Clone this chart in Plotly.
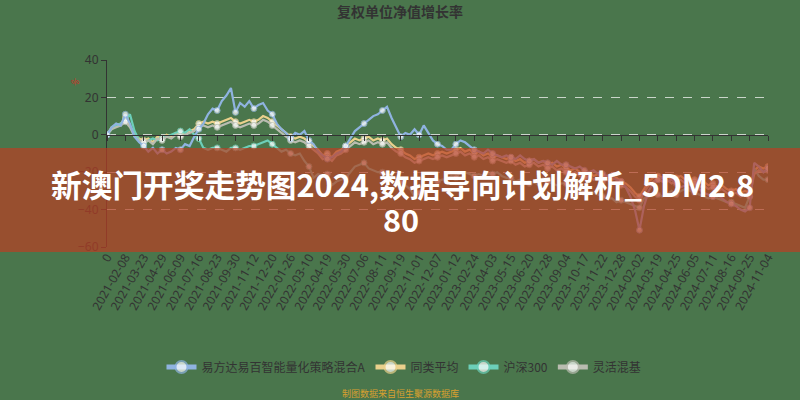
import plotly.graph_objects as go

title_text = "复权单位净值增长率"
series_names = ["易方达易百智能量化策略混合A", "同类平均", "沪深300", "灵活混基"]
banner_line1 = "新澳门开奖走势图2024,数据导向计划解析_5DM2.8"
banner_line2 = "80"
source_text = "制图数据来自恒生聚源数据库"
tick_labels = ["0", "2021-02-08", "2021-03-23", "2021-04-29", "2021-06-09", "2021-07-16",
               "2021-08-23", "2021-09-30", "2021-11-12", "2021-12-20", "2022-01-26", "2022-03-10",
               "2022-04-19", "2022-05-30", "2022-07-06", "2022-08-11", "2022-09-19", "2022-11-01",
               "2022-12-07", "2023-01-12", "2023-02-24", "2023-04-03", "2023-05-15", "2023-06-20",
               "2023-07-28", "2023-09-04", "2023-10-17", "2023-11-22", "2023-12-28", "2024-02-02",
               "2024-03-19", "2024-04-25", "2024-06-05", "2024-07-11", "2024-08-16", "2024-09-25",
               "2024-11-04"]

fund = [0, 4, 6, 5, 11, 6, -1, -4, -6, -9,
        -7, -10, -8, -10, -9, -7, -8, -5, -6, -1,
        3, 6, 11, 14, 13, 18, 21, 25, 12, 17,
        15, 18, 14, 16, 17, 13, 11, 6, 3, 1,
        -2, 1, 0, 2, -3, -5, -9, -11, -13, -12,
        -10, -9, -6, -2, 2, 4, 6, 8, 10, 11,
        13, 15, 9, 4, -1, 1, 0, 3, 0, 5,
        1, -3, -5, -6, -8, -8, -5, -3, -4, -6,
        -8, -9, -10, -8, -10, -11, -12, -11, -12, -13,
        -11, -13, -14, -13, -15, -14, -15, -16, -14, -16,
        -16, -17, -18, -17, -19, -20, -19, -21, -21, -22,
        -23, -24, -25, -28, -33, -40, -51, -38, -30, -26,
        -24, -23, -25, -24, -26, -28, -27, -29, -30, -29,
        -31, -32, -33, -32, -34, -36, -37, -38, -40, -41,
        -39, -15, -17, -20, -18]

peer_avg = [0, 4, 5, 6, 9, 5, 0, -2, -3, -2,
            -4, -1, -2, 0, -1, 1, 0, 1, 2, 3,
            6, 7, 6, 7, 6, 7, 8, 9, 7, 6,
            7, 8, 7, 8, 10, 9, 7, 5, 3, 1,
            -1, -2, -1, -2, -4, -6, -8, -11, -10, -12,
            -9, -8, -6, -4, -2, -3, -2, -1, -3, -2,
            -3, -2, -5, -7, -8, -10, -11, -13, -12, -11,
            -10, -11, -10, -9, -10, -9, -8, -7, -9, -8,
            -10, -9, -11, -10, -12, -11, -12, -13, -12, -14,
            -13, -15, -14, -13, -15, -14, -16, -15, -17, -16,
            -18, -19, -18, -20, -21, -20, -22, -21, -23, -22,
            -24, -23, -25, -26, -28, -31, -33, -29, -25, -23,
            -22, -23, -22, -24, -23, -22, -24, -25, -24, -26,
            -25, -27, -26, -28, -27, -29, -30, -29, -31, -30,
            -31, -19, -17, -18, -17]

hs300 = [0, 3, 5, 6, 8, 11, 2, -3, -5, -3,
         -2, -3, -2, -1, 0, 1, 2, 1, 3, 0,
         -2, -7, -8, -7, -7, -8, -9, -7, -7, -8,
         -7, -6, -6, -5, -4, -3, -5, -7, -9, -8,
         -10, -11, -10, -14, -17, -23, -21, -22, -21, -27,
         -25, -24, -23, -20, -17, -16, -15, -18, -19, -20,
         -20, -21, -22, -24, -25, -27, -29, -33, -31, -28,
         -27, -25, -25, -24, -24, -22, -23, -20, -20, -21,
         -22, -21, -22, -21, -21, -20, -22, -23, -23, -25,
         -24, -25, -26, -25, -27, -23, -25, -26, -27, -26,
         -26, -27, -28, -29, -31, -32, -31, -32, -33, -34,
         -34, -36, -35, -36, -37, -38, -39, -34, -33, -32,
         -32, -33, -32, -30, -32, -30, -29, -30, -31, -32,
         -33, -34, -33, -34, -35, -36, -36, -37, -38, -39,
         -33, -18, -22, -24, -24]

flex_mix = [0, 3, 4, 5, 7, 4, -1, -3, -4, -3,
            -5, -2, -3, -1, -2, 0, -1, 0, 1, 2,
            4, 5, 4, 5, 4, 5, 6, 7, 5, 4,
            5, 6, 5, 6, 8, 7, 5, 3, 1, -1,
            -3, -4, -3, -4, -6, -8, -10, -13, -12, -14,
            -11, -10, -8, -6, -4, -5, -4, -3, -5, -4,
            -5, -4, -7, -9, -10, -12, -13, -15, -14, -13,
            -12, -13, -12, -11, -12, -11, -10, -9, -11, -10,
            -12, -11, -13, -12, -14, -13, -14, -15, -14, -16,
            -15, -17, -16, -15, -17, -16, -18, -17, -19, -18,
            -20, -21, -20, -22, -23, -22, -24, -23, -25, -24,
            -26, -25, -27, -28, -30, -33, -35, -31, -27, -25,
            -24, -25, -24, -26, -25, -24, -26, -27, -26, -28,
            -27, -29, -28, -30, -29, -31, -32, -31, -33, -32,
            -33, -21, -19, -20, -19]

STEP = 4
n = len(fund)
xs = list(range(n))
tickvals = xs[::STEP]

W, H = 800, 400
ML, MR, MT, MB = 107, 32, 60, 153
PW, PH = W - ML - MR, H - MT - MB


def px(xp):
    return (xp - ML) / PW


def py(yp):
    return (H - MB - yp) / PH


BG = "#4a764c"
colors = ["#8fb3e0", "#ead08c", "#6ccfb9", "#b9bcb0"]
all_series = [fund, peer_avg, hs300, flex_mix]
msizes = [6 if i % STEP == 0 else 0 for i in xs]

fig = go.Figure()
for k, (name, vals, col) in enumerate(zip(series_names, all_series, colors)):
    fig.add_trace(go.Scatter(
        x=xs, y=vals, name=name, mode="lines+markers",
        line=dict(color=col, width=2.2),
        marker=dict(size=msizes, color="white", line=dict(color=col, width=1)),
        xaxis="x2" if k == 0 else "x",
        hoverinfo="skip",
    ))

fig.update_layout(
    width=W, height=H,
    paper_bgcolor=BG, plot_bgcolor=BG,
    margin=dict(l=ML, r=MR, t=MT, b=MB),
    title=dict(text=title_text, x=0.5, xanchor="center", y=1 - 12.5 / H, yanchor="middle",
               font=dict(family="Noto Sans CJK SC", size=14, color="#333333", weight="bold")),
    xaxis=dict(range=[0, n - 1], tickvals=tickvals, ticktext=tick_labels, tickangle=-60,
               showgrid=False, zeroline=False, showline=False, ticks="",
               tickfont=dict(family="Noto Sans", size=12, color="#333333")),
    xaxis2=dict(overlaying="x", matches="x", anchor="free", position=0.6,
                range=[0, n - 1], tickvals=tickvals, showticklabels=False,
                ticks="outside", ticklen=5, tickcolor="#333333",
                showline=True, linecolor="#333333", linewidth=1,
                showgrid=False, zeroline=False),
    yaxis=dict(range=[-60, 40], dtick=20, showline=True, linecolor="#333333", linewidth=1,
               ticks="outside", ticklen=5, tickcolor="#333333",
               showgrid=True, gridcolor="rgba(225,230,225,0.85)", griddash="dash", gridwidth=1,
               zeroline=False,
               tickfont=dict(family="Noto Sans", size=12, color="#333333")),
    legend=dict(orientation="h", xref="container", yref="container", x=0.505, xanchor="center",
                y=1 - 367 / H, yanchor="middle", itemsizing="constant",
                font=dict(family="Noto Sans CJK SC", size=12, color="#333333"),
                bgcolor="rgba(0,0,0,0)"),
    showlegend=True,
)

fig.add_annotation(x=px(75), y=py(81), xref="paper", yref="paper", xanchor="center", yanchor="middle",
                   text="%", showarrow=False, textangle=-30,
                   font=dict(family="Noto Sans", size=9, color="#c0392b"))
fig.add_annotation(x=px(400), y=py(393), xref="paper", yref="paper", xanchor="center", yanchor="middle",
                   text=source_text, showarrow=False,
                   font=dict(family="Noto Sans CJK SC", size=9, color="#d8a030"))

# overlay banner
fig.add_shape(type="rect", xref="paper", yref="paper",
              x0=px(0), x1=px(W), y0=py(252), y1=py(148),
              fillcolor="rgba(185,63,36,0.70)", line=dict(width=0), layer="above")
banner_font = dict(family="Noto Sans CJK SC", size=30.7, color="white", weight="bold")
fig.add_annotation(x=px(402), y=py(183), xref="paper", yref="paper", xanchor="center", yanchor="middle",
                   text=banner_line1, showarrow=False, font=banner_font)
fig.add_annotation(x=px(401), y=py(218), xref="paper", yref="paper", xanchor="center", yanchor="middle",
                   text=banner_line2, showarrow=False, font=banner_font)

fig.write_html("out.html", config={"displayModeBar": False},
               post_script="document.body.style.margin='0';document.body.style.overflow='hidden';")
